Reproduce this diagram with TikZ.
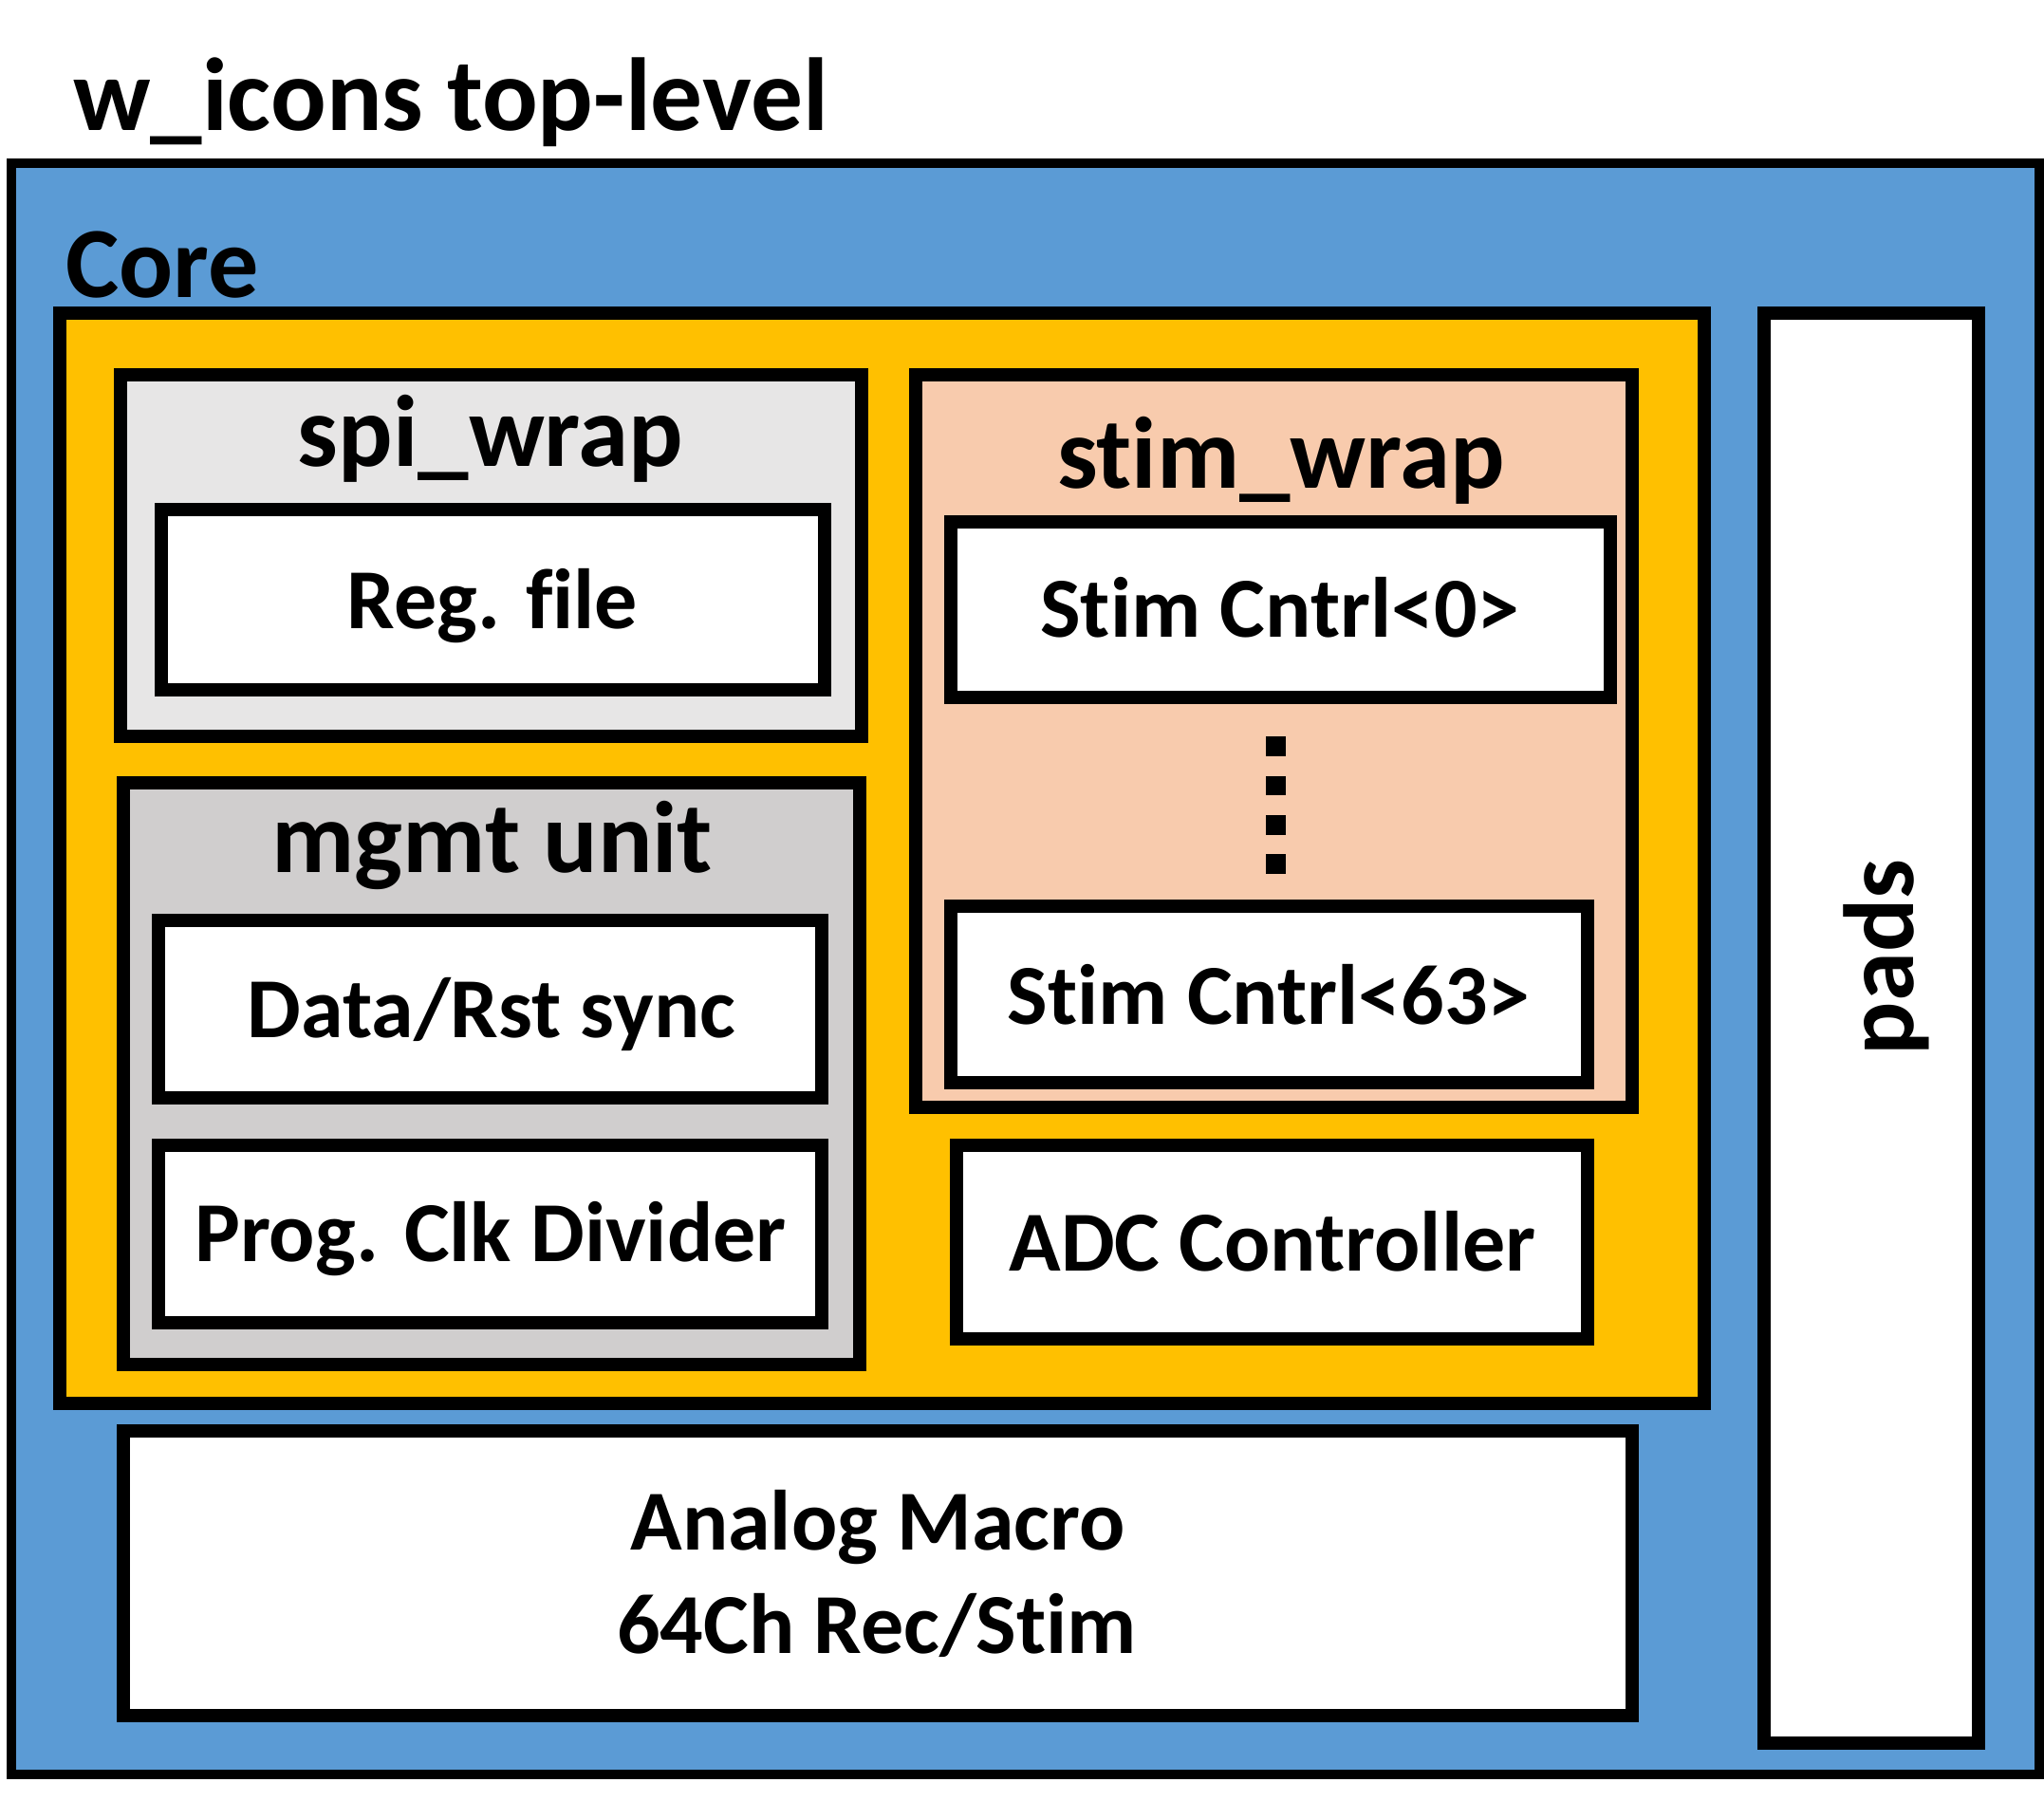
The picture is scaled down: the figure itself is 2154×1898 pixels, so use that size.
\documentclass[tikz,border=0pt]{standalone}
\usepackage{fontspec}
\setmainfont{Carlito}[Ligatures={NoCommon,NoContextual},Contextuals={NoAlternate},RawFeature={-liga;-clig;-calt}]
\definecolor{cblue}{HTML}{5B9BD5}
\definecolor{cyel}{HTML}{FFC000}
\definecolor{cpeach}{HTML}{F8CBAD}
\definecolor{cspi}{HTML}{E7E6E6}
\definecolor{cmgmt}{HTML}{D0CECE}
\tikzset{
  blk/.style={draw=black, line width=0.14cm, line join=miter},
  outerblk/.style={draw=black, line width=0.10cm, line join=miter},
  ttl/.style={font=\bfseries\fontsize{30.5pt}{36pt}\selectfont, anchor=base, inner sep=0pt},
  lbl/.style={font=\bfseries\fontsize{25.6pt}{30pt}\selectfont, anchor=base, inner sep=0pt},
}
\begin{document}
\begin{tikzpicture}[x=0.01cm, y=-0.01cm]
\useasboundingbox (0,0) rectangle (2154,1898);
\fill[white] (0,0) rectangle (2154,1898);
% outer top-level
\path[outerblk, fill=cblue] (12,172) rectangle (2149,1870);
% core
\path[blk, fill=cyel] (63,330) rectangle (1796,1479);
% pads
\path[blk, fill=white] (1859,330) rectangle (2085,1837);
% spi_wrap
\path[blk, fill=cspi] (127,395) rectangle (908,776);
\path[blk, fill=white] (170,537) rectangle (869,727);
% mgmt unit
\path[blk, fill=cmgmt] (130,825) rectangle (906,1438);
\path[blk, fill=white] (167,970) rectangle (866,1157);
\path[blk, fill=white] (167,1207) rectangle (866,1394);
% stim_wrap
\path[blk, fill=cpeach] (965,395) rectangle (1720,1167);
\path[blk, fill=white] (1002,550) rectangle (1697,735);
\path[blk, fill=white] (1002,955) rectangle (1673,1141);
% ADC
\path[blk, fill=white] (1008,1207) rectangle (1673,1411);
% Analog
\path[blk, fill=white] (130,1508) rectangle (1720,1808);
% dots
\fill[black] (1334,776) rectangle (1355,797);
\fill[black] (1334,818) rectangle (1355,838);
\fill[black] (1334,859) rectangle (1355,880);
\fill[black] (1334,900) rectangle (1355,921);
% texts
\node[ttl, font=\bfseries\fontsize{31.1pt}{36pt}\selectfont] (title) at (475,138) {w\_icons top-level};
\node[ttl, font=\bfseries\fontsize{30.2pt}{36pt}\selectfont] (core) at (171,314) {Core};
\node[ttl] (spi) at (517,492) {spi\_wrap};
\node[ttl] (stim) at (1350,515) {stim\_wrap};
\node[ttl] (mgmt) at (519,920) {mgmt unit};
\node[lbl] (reg) at (519,663) {Reg. file};
\node[lbl] (stim0) at (1349,672) {Stim Cntrl<0>};
\node[lbl] (stim63) at (1337,1080) {Stim Cntrl<63>};
\node[lbl] (adc) at (1341,1339) {ADC Controller};
\node[lbl] (data) at (518,1094) {Data/Rst sync};
\node[lbl] (prog) at (517,1330) {Prog. Clk Divider};
\node[lbl] (analogA) at (925,1633) {Analog Macro};
\node[lbl] (analogB) at (924,1742) {64Ch Rec/Stim};
\node[ttl, font=\bfseries\fontsize{29.9pt}{36pt}\selectfont, rotate=90] (pads) at (2016,1009) {pads};
\end{tikzpicture}
\end{document}
